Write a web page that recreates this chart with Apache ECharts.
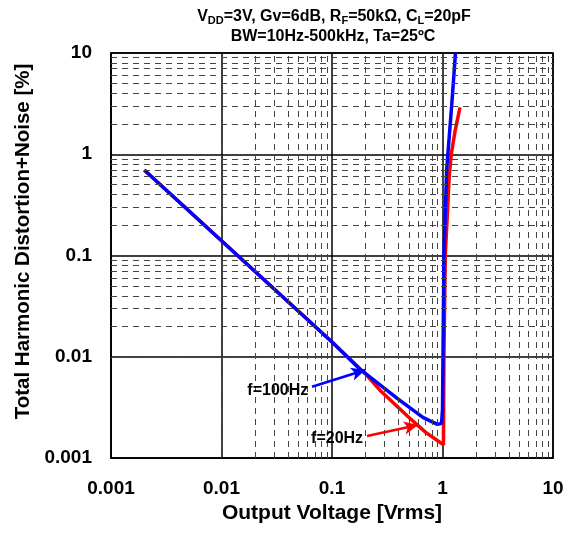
<!DOCTYPE html>
<html><head><meta charset="utf-8">
<script src="https://cdn.jsdelivr.net/npm/echarts@6/dist/echarts.min.js"></script>
<style>html,body{margin:0;padding:0;background:#fff}#c{width:572px;height:535px}</style>
</head><body><div id="c"></div>
<script>
// Data (Output Voltage [Vrms], THD+N [%])
const blue100Hz = [[0.002,0.7],[0.01,0.14],[0.05,0.028],[0.1,0.014],[0.18,0.0075],[0.4,0.0038],[0.67,0.0025],[0.9,0.00215],[0.98,0.0022],[1.0,0.003],[1.01,0.01],[1.03,0.1],[1.09,0.7],[1.21,3],[1.31,10]];
const red20Hz = [[0.002,0.7],[0.01,0.14],[0.05,0.028],[0.1,0.014],[0.2,0.0068],[0.27,0.0047],[0.5,0.0025],[0.7,0.0018],[1.02,0.00135],[1.03,0.01],[1.06,0.1],[1.15,0.6],[1.2,1],[1.3,1.7],[1.44,2.9]];
const xTicks = [0.001,0.01,0.1,1,10];
const yTicks = [0.001,0.01,0.1,1,10];
const minorMult = [2,3,4,5,6,7,8,9];
// annotations: [label, arrowTail, arrowTip]
const noteBlue = ['f=100Hz',[0.066,0.00505],[0.2,0.0074]];
const noteRed = ['f=20Hz',[0.2075,0.00165],[0.6,0.00212]];

const minorX = [], minorY = [];
xTicks.slice(0,-1).forEach(d=>minorMult.forEach(m=>minorX.push(+(d*m).toPrecision(3))));
yTicks.slice(0,-1).forEach(d=>minorMult.forEach(m=>minorY.push(+(d*m).toPrecision(3))));

const F = 'Arial, "Liberation Sans", sans-serif';
const chart = echarts.init(document.getElementById('c'));
const minorStyle = {color:'#444', width:1, type:[6,5]};
const fmt = v=>String(+v.toPrecision(3));
chart.setOption({
  animation:false,
  title:[{
    text:'{a|V}{s|DD}{a|=3V, Gv=6dB, R}{s|F}{a|=50kΩ, C}{s|L}{a|=20pF}',
    left:329, top:3, textAlign:'center',
    textStyle:{rich:{a:{fontFamily:F,fontWeight:'bold',fontSize:16,color:'#000'},s:{fontFamily:F,fontWeight:'bold',fontSize:11,color:'#000',verticalAlign:'bottom',padding:[7,0,0,0]}}}
  },{
    text:'BW=10Hz-500kHz, Ta=25ºC', left:328, top:24, textAlign:'center',
    textStyle:{fontFamily:F,fontWeight:'bold',fontSize:16,color:'#000'}
  }],
  grid:{left:111,right:19,top:53,bottom:77,show:true,borderColor:'#000',borderWidth:1.5},
  xAxis:{type:'log',logBase:10,min:0.001,max:10,
    name:'Output Voltage [Vrms]',nameLocation:'middle',nameGap:40,
    nameTextStyle:{fontFamily:F,fontWeight:'bold',fontSize:21,color:'#000'},
    axisLine:{show:true,lineStyle:{color:'#000',width:1.5}},axisTick:{show:false},
    axisLabel:{margin:21,fontFamily:F,fontWeight:'bold',fontSize:19,color:'#000',formatter:fmt},
    splitLine:{show:true,lineStyle:{color:'#000',width:1.5}}},
  yAxis:{type:'log',logBase:10,min:0.001,max:10,
    name:'Total Harmonic Distortion+Noise [%]',nameLocation:'middle',nameGap:77,
    nameTextStyle:{fontFamily:F,fontWeight:'bold',fontSize:20.5,color:'#000',padding:[0,0,0,28]},
    axisLine:{show:true,lineStyle:{color:'#000',width:1.5}},axisTick:{show:false},
    axisLabel:{margin:19,fontFamily:F,fontWeight:'bold',fontSize:19,color:'#000',formatter:fmt},
    splitLine:{show:true,lineStyle:{color:'#000',width:1.5}}},
  series:[
    {type:'line',data:[[1,1]],showSymbol:false,lineStyle:{opacity:0},silent:true,z:1,
     markLine:{silent:true,symbol:'none',label:{show:false},animation:false,lineStyle:minorStyle,
       data:minorX.map(v=>({xAxis:v})).concat(minorY.map(v=>({yAxis:v})))}},
    {name:'f=20Hz',type:'line',data:red20Hz,showSymbol:false,z:3,lineStyle:{color:'#ff0000',width:3.5},
     markLine:{silent:true,animation:false,lineStyle:{color:'#ff0000',width:2.5,type:'solid'},symbol:['none','arrow'],symbolSize:[10,14],
       label:{show:true,position:'start',formatter:noteRed[0],fontFamily:F,fontWeight:'bold',fontSize:16,color:'#000',distance:4,offset:[0,2]},
       data:[[{coord:noteRed[1]},{coord:noteRed[2]}]]}},
    {name:'f=100Hz',type:'line',data:blue100Hz,showSymbol:false,z:4,lineStyle:{color:'#0000ff',width:3.5},
     markLine:{silent:true,animation:false,lineStyle:{color:'#0000ff',width:2.5,type:'solid'},symbol:['none','arrow'],symbolSize:[10,14],
       label:{show:true,position:'start',formatter:noteBlue[0],fontFamily:F,fontWeight:'bold',fontSize:16,color:'#000',distance:4,offset:[0,3]},
       data:[[{coord:noteBlue[1]},{coord:noteBlue[2]}]]}}
  ]
});
</script></body></html>
